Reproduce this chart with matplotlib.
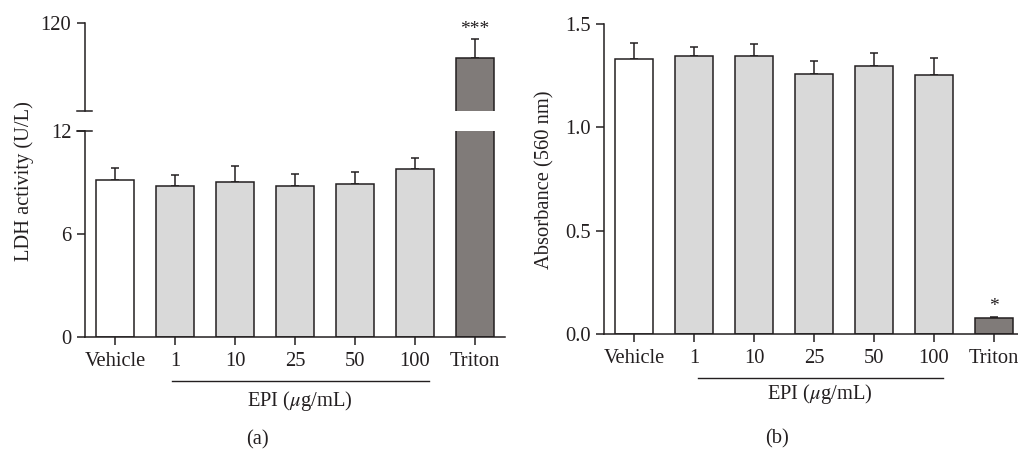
import numpy as np
import matplotlib
matplotlib.use("Agg")
import matplotlib.pyplot as plt
from matplotlib.lines import Line2D

plt.rcParams['font.family'] = ['Liberation Serif', 'DejaVu Serif']
plt.rcParams['mathtext.fontset'] = 'stix'
plt.rcParams['font.size'] = 14.8

# data
groups = ['Vehicle', '1', '10', '25', '50', '100', 'Triton']
ldh_mean = [9.14, 8.80, 9.03, 8.80, 8.90, 9.78, 77.0]
ldh_err = [0.70, 0.65, 0.93, 0.70, 0.70, 0.66, 23.0]
abs_mean = [1.330, 1.343, 1.343, 1.260, 1.295, 1.255, 0.076]
abs_err = [0.080, 0.046, 0.062, 0.060, 0.064, 0.079, 0.004]

colors = ['white', '#d9d9d9', '#d9d9d9', '#d9d9d9', '#d9d9d9', '#d9d9d9', '#807b79']
INK = '#231f20'

W, H = 1018, 449
fig = plt.figure(figsize=(W / 100, H / 100), dpi=100)


def px_axes(x0, y0, x1, y1):
    # pixel box (top-left origin) -> figure axes
    return fig.add_axes([x0 / W, 1 - y1 / H, (x1 - x0) / W, (y1 - y0) / H])


def style(ax):
    for s in ['top', 'right']:
        ax.spines[s].set_visible(False)
    for s in ['left', 'bottom']:
        ax.spines[s].set_color(INK)
        ax.spines[s].set_linewidth(1.1)
    ax.tick_params(colors=INK, width=1.1, length=5.8, labelsize=14.8)
    ax.tick_params(axis='y', pad=4)
    ax.tick_params(axis='x', pad=5)


def draw_bars(ax, idx, mean, err):
    x = np.arange(len(groups))[idx]
    m = np.array(mean)[idx]
    e = np.array(err)[idx]
    ax.bar(x, m, width=0.63, color=np.array(colors)[idx], edgecolor=INK, linewidth=1.1, zorder=2)
    ax.errorbar(x, m, yerr=[np.zeros(len(e)), e], fmt='none', ecolor=INK,
                elinewidth=1.1, capsize=2.6, capthick=1.1, zorder=1)


all_idx = np.arange(len(groups))

# ---------- panel (a) with broken axis ----------
axl = px_axes(85, 131, 505, 337)
axu = px_axes(85, 23, 505, 111)
style(axl)
style(axu)

# lower part: all bars, error bars only where they fit below the break
axl.bar(all_idx, ldh_mean, width=0.63, color=colors, edgecolor=INK, linewidth=1.1, zorder=2)
low = all_idx[:-1]
axl.errorbar(low, np.array(ldh_mean)[low], yerr=[np.zeros(len(low)), np.array(ldh_err)[low]],
             fmt='none', ecolor=INK, elinewidth=1.1, capsize=2.6, capthick=1.1, zorder=1)
axl.set_xlim(-0.5, 6.5)
axl.set_ylim(0, 12)
axl.set_yticks([0, 6, 12])
axl.set_xticks(all_idx)
axl.set_xticklabels(groups)

# upper part: only Triton reaches it
draw_bars(axu, all_idx[-1:], ldh_mean, ldh_err)
axu.set_xlim(-0.5, 6.5)
axu.set_ylim(12, 120)
axu.set_yticks([120])
axu.spines['bottom'].set_visible(False)
axu.set_xticks([])
axu.text(6, ldh_mean[6] + ldh_err[6] + 2, '***', ha='center', va='bottom', color=INK, fontsize=14)

# break marks
for ax, yfrac in ((axu, 0), (axl, 1)):
    bb = ax.get_position()
    fig.add_artist(Line2D([bb.x0 - 8 / W, bb.x0 + 7 / W], [bb.y0 + yfrac * bb.height] * 2,
                          color=INK, lw=1.1))

fig.text(24 / W, 1 - 181 / H, 'LDH activity (U/L)', rotation=90, ha='center', va='center',
         color=INK)
fig.add_artist(Line2D([172 / W, 429 / W], [1 - 381 / H] * 2, color=INK, lw=1.0))
fig.text(300 / W, 1 - 401 / H, r'EPI ($\mu$g/mL)', ha='center', va='center', color=INK)
fig.text(257 / W, 1 - 440 / H, '(a)', ha='center', va='center', color=INK)

# ---------- panel (b) ----------
axb = px_axes(604, 24, 1024, 334)
style(axb)
draw_bars(axb, all_idx, abs_mean, abs_err)
axb.set_xlim(-0.5, 6.5)
axb.set_ylim(0, 1.5)
axb.set_yticks([0, 0.5, 1.0, 1.5])
axb.set_yticklabels(['0.0', '0.5', '1.0', '1.5'])
axb.set_xticks(all_idx)
axb.set_xticklabels(groups)
axb.text(6, abs_mean[6] + abs_err[6] + 0.01, '*', ha='center', va='bottom', color=INK, fontsize=14)

fig.text(545 / W, 1 - 180 / H, 'Absorbance (560 nm)', rotation=90, ha='center', va='center',
         color=INK)
fig.add_artist(Line2D([698 / W, 943 / W], [1 - 378 / H] * 2, color=INK, lw=1.0))
fig.text(820 / W, 1 - 394 / H, r'EPI ($\mu$g/mL)', ha='center', va='center', color=INK)
fig.text(777 / W, 1 - 439 / H, '(b)', ha='center', va='center', color=INK)

fig.savefig('out.png', dpi=100)
